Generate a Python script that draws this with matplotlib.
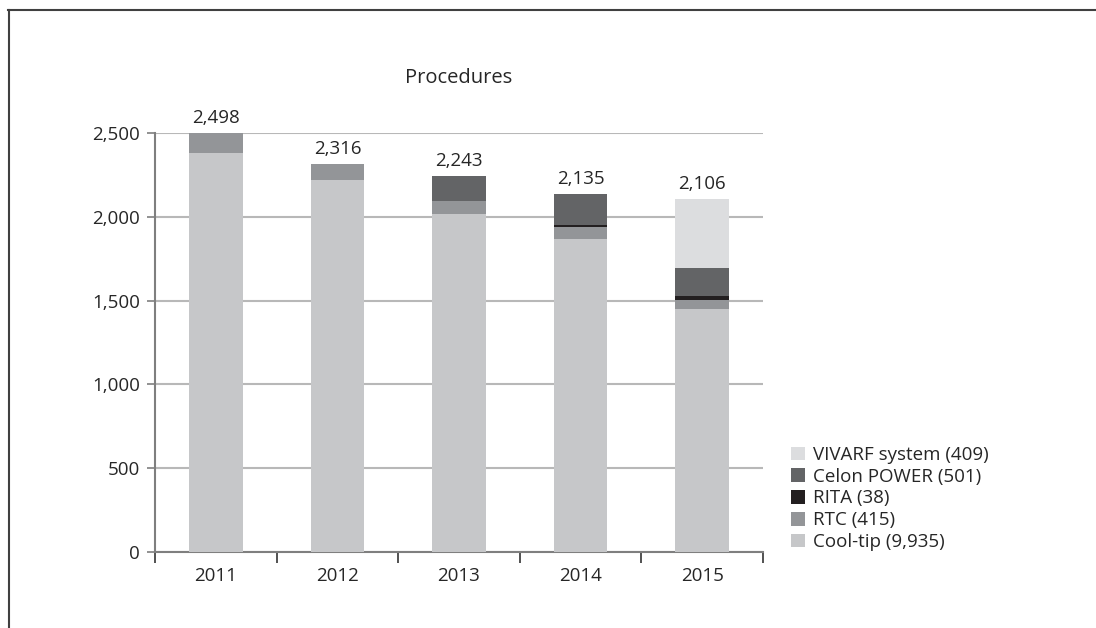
import matplotlib
matplotlib.use("Agg")
import matplotlib.pyplot as plt
from matplotlib.lines import Line2D
from matplotlib.patches import Patch
import numpy as np

years = ["2011", "2012", "2013", "2014", "2015"]
cool_tip = [2380, 2221, 2019, 1868, 1447]
rtc = [118, 95, 77, 71, 54]
rita = [0, 0, 0, 12, 26]
celon = [0, 0, 147, 184, 170]
vivarf = [0, 0, 0, 0, 409]
totals = [2498, 2316, 2243, 2135, 2106]
series_names = ["Cool-tip (9,935)", "RTC (415)", "RITA (38)", "Celon POWER (501)", "VIVARF system (409)"]
colors = ["#c6c7c9", "#939598", "#231f20", "#636466", "#dcdddf"]
yticks = [0, 500, 1000, 1500, 2000, 2500]

plt.rcParams['font.family'] = ['Open Sans', 'DejaVu Sans']
text_color = "#262626"

fig = plt.figure(figsize=(10.96, 6.28), dpi=100)
ax = fig.add_axes([155/1096, 1-552/628, (763-155)/1096, (552-133)/628])

x = np.arange(len(years))
series = [cool_tip, rtc, rita, celon, vivarf]
bottom = np.zeros(len(years))
for vals, c in zip(series, colors):
    ax.bar(x, vals, bottom=bottom, width=0.44, color=c, zorder=3, linewidth=0)
    bottom += np.array(vals)

for xi, t in zip(x, totals):
    ax.text(xi, t + 35, f"{t:,}", ha="center", va="bottom", fontsize=13.5, color=text_color)

ax.set_xlim(-0.5, len(years) - 0.5)
ax.set_ylim(0, 2500)
ax.set_yticks(yticks)
ax.set_yticklabels([f"{v:,}" for v in yticks], fontsize=13.5, color=text_color)
ax.yaxis.grid(True, color="#b8b8b8", linewidth=1.5, zorder=0)
ax.set_axisbelow(True)

# x ticks at category boundaries, labels at centers
ax.set_xticks(np.arange(-0.5, len(years), 1.0))
ax.set_xticklabels([""] * (len(years) + 1))
ax.set_xticks(x, minor=True)
ax.set_xticklabels(years, minor=True, fontsize=13.5, color=text_color)
ax.tick_params(axis="x", which="major", length=8, width=1.2, color="#333333", direction="out")
ax.tick_params(axis="x", which="minor", length=0, pad=11)
ax.tick_params(axis="y", length=6, width=1.2, color="#7f7f7f", pad=5)

for s in ["top", "right"]:
    ax.spines[s].set_visible(False)
for s in ["left", "bottom"]:
    ax.spines[s].set_color("#7f7f7f")
    ax.spines[s].set_linewidth(1.5)

fig.text(459/1096, 1-78/628, "Procedures", ha="center", va="center", fontsize=14.5, color=text_color)

handles = [Patch(facecolor=c, edgecolor="none") for c in colors][::-1]
labels = series_names[::-1]
leg = fig.legend(handles, labels, loc="upper left", bbox_to_anchor=(791/1096, 1-446/628),
                 frameon=False, fontsize=13.5, handlelength=0.75, handleheight=0.75,
                 handletextpad=0.4, labelspacing=0.2, borderpad=0, borderaxespad=0)
for t in leg.get_texts():
    t.set_color(text_color)

# outer frame (top and left edges)
fig.add_artist(Line2D([8/1096, 1], [1-9.5/628, 1-9.5/628], color="#404040", linewidth=1.5, transform=fig.transFigure))
fig.add_artist(Line2D([8.5/1096, 8.5/1096], [0, 1-9.5/628], color="#404040", linewidth=1.5, transform=fig.transFigure))

fig.savefig("out.png", dpi=100)
